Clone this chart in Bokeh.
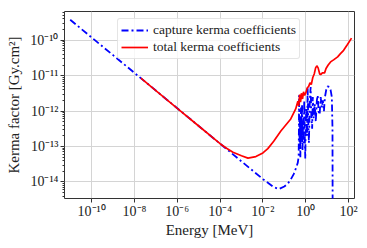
from bokeh.plotting import figure
from bokeh.models import FixedTicker, CustomJSTickFormatter, Legend, LegendItem, Range1d
from bokeh.embed import file_html
from bokeh.resources import INLINE

# capture kerma coefficients
capture_energy = [1.0e-11, 1e-10, 1e-9, 1e-8, 1e-7, 1e-6, 1e-5, 1e-4, 1e-3, 1e-2,
                  3.2e-2, 5.5e-2, 0.1, 0.145, 0.2, 0.275, 0.355, 0.427, 0.468,
                  0.479, 0.49, 0.513, 0.537, 0.562, 0.603, 0.631, 0.676, 0.708, 0.759,
                  0.794, 0.851, 0.891, 0.955, 1.0, 1.07, 1.15, 1.23, 1.32, 1.41, 1.55,
                  1.70, 1.82, 2.0, 2.14, 2.34, 2.63, 2.95, 3.31, 3.63, 3.98, 4.47, 5.0,
                  5.6, 6.3, 7.1, 7.9, 9.1, 10.5, 12.6, 14.5, 16.6, 17.8, 18.2]
capture_kerma = [3.8e-10, 1.2e-10, 3.8e-11, 1.2e-11, 3.8e-12, 1.2e-12, 3.8e-13, 1.2e-13, 3.8e-14, 1.2e-14,
                 7.1e-15, 6.3e-15, 7.4e-15, 8.9e-15, 1.17e-14, 1.66e-14, 2.5e-14, 3.5e-14, 5.2e-14,
                 2.5e-13, 2.8e-12, 1.26e-13, 6.3e-13, 5.0e-14, 1.26e-12, 1.6e-13, 1.6e-12, 7.9e-14, 6.3e-13,
                 1.26e-13, 2.0e-12, 2.5e-13, 4.5e-14, 4.0e-13, 1.26e-12, 2.0e-13, 4.5e-12, 5.0e-13, 1.26e-13, 2.0e-12,
                 4.8e-12, 7.9e-13, 3.2e-13, 2.5e-12, 6.3e-13, 1.6e-12, 5.0e-13, 2.0e-12, 2.8e-12, 1.0e-12, 7.9e-13, 2.5e-12,
                 1.26e-12, 2.0e-12, 1.0e-12, 2.5e-12, 4.0e-12, 5.0e-12, 4.8e-12, 4.0e-12, 2.5e-12, 3.2e-13, 3.2e-16]

# total kerma coefficients
total_energy = [2.0e-8, 1e-7, 1e-6, 1e-5, 1e-4, 2.0e-4, 4.0e-4, 1e-3, 2.0e-3, 4.7e-3, 1e-2,
                1.7e-2, 3.2e-2, 6.9e-2, 0.2, 0.34, 0.43, 0.47, 0.52, 0.575, 0.63, 0.71, 0.79,
                0.89, 1.0, 1.17, 1.38, 1.58, 1.82, 2.14, 2.5, 2.9, 3.3, 3.8, 4.5, 5.0, 6.0,
                7.6, 8.9, 11.2, 14.5, 20, 31, 42, 59, 89, 138]
total_kerma = [8.5e-12, 3.8e-12, 1.2e-12, 3.8e-13, 1.2e-13, 8.9e-14, 6.9e-14, 5.5e-14, 4.7e-14, 5.2e-14, 6.6e-14,
               8.7e-14, 1.4e-13, 2.75e-13, 6.0e-13, 1.15e-12, 1.9e-12, 1.4e-12, 2.95e-12, 1.8e-12, 3.2e-12, 2.2e-12, 3.5e-12,
               2.8e-12, 3.2e-12, 4.5e-12, 5.0e-12, 6.3e-12, 5.6e-12, 8.9e-12, 1.12e-11, 1.66e-11, 1.9e-11, 1.66e-11, 1.12e-11, 1.07e-11, 1.2e-11,
               1.2e-11, 1.6e-11, 2.0e-11, 2.45e-11, 2.8e-11, 3.4e-11, 4.2e-11, 5.2e-11, 7.6e-11, 1.15e-10]

x_ticks = [1e-10, 1e-8, 1e-6, 1e-4, 1e-2, 1e0, 1e2]
y_ticks = [1e-14, 1e-13, 1e-12, 1e-11, 1e-10]
y_minor = [k * 10.0 ** e for e in range(-15, -9) for k in range(2, 10)]

FONT = "Liberation Serif"

p = figure(width=359, height=240, x_axis_type="log", y_axis_type="log",
           x_range=Range1d(5.4e-12, 190), y_range=Range1d(3.4e-15, 6.5e-10),
           output_backend="svg", toolbar_location=None,
           min_border_left=64, min_border_right=5, min_border_top=11, min_border_bottom=39)

p.outline_line_color = "#333333"
p.outline_line_width = 1

r_cap = p.line(capture_energy, capture_kerma, line_color="#0000ff", line_width=1.8, line_dash="7 3 2 3")
r_tot = p.line(total_energy, total_kerma, line_color="#ff0000", line_width=1.7)

fmt = CustomJSTickFormatter(code="""
const e = Math.round(Math.log10(tick));
const sup = {'-':'\u207b','0':'\u2070','1':'\u00b9','2':'\u00b2','3':'\u00b3','4':'\u2074','5':'\u2075','6':'\u2076','7':'\u2077','8':'\u2078','9':'\u2079'};
return '10' + String(e).split('').map(c => sup[c]).join('');
""")

p.xaxis.ticker = FixedTicker(ticks=x_ticks, minor_ticks=[])
p.yaxis.ticker = FixedTicker(ticks=y_ticks, minor_ticks=y_minor)
for ax in (p.xaxis, p.yaxis):
    ax.formatter = fmt
    ax.major_label_text_font = FONT
    ax.major_label_text_font_size = "14px"
    ax.major_label_text_color = "#222222"
    ax.axis_label_text_font = FONT
    ax.axis_label_text_font_size = "15px"
    ax.axis_label_text_font_style = "normal"
    ax.axis_label_text_color = "#222222"
    ax.axis_line_color = None
    ax.major_tick_line_color = "#333333"
    ax.minor_tick_line_color = "#333333"
    ax.major_tick_out = 4
    ax.major_tick_in = 0
    ax.minor_tick_out = 2
    ax.minor_tick_in = 0
p.xaxis.major_label_standoff = 1
p.xaxis.axis_label_standoff = 0
p.yaxis.major_label_standoff = 2
p.yaxis.axis_label_standoff = 5

p.xaxis.axis_label = "Energy [MeV]"
p.yaxis.axis_label = "Kerma factor [Gy.cm²]"

p.xgrid.ticker = FixedTicker(ticks=x_ticks)
p.ygrid.ticker = FixedTicker(ticks=y_ticks)
p.grid.grid_line_color = "#d4d4d4"
p.grid.grid_line_width = 1

legend = Legend(items=[LegendItem(label="capture kerma coefficients", renderers=[r_cap]),
                       LegendItem(label="total kerma coefficients", renderers=[r_tot])],
                location=(53, 139))
legend.label_text_font = FONT
legend.label_text_font_size = "13.5px"
legend.label_text_color = "#222222"
legend.glyph_width = 27
legend.glyph_height = 14
legend.label_height = 14
legend.label_standoff = 5
legend.spacing = 1
legend.padding = 3
legend.margin = 0
legend.border_line_color = "#cccccc"
legend.border_radius = 3
legend.background_fill_alpha = 0.8
p.add_layout(legend)

open("out.html", "w").write(file_html(p, INLINE))
